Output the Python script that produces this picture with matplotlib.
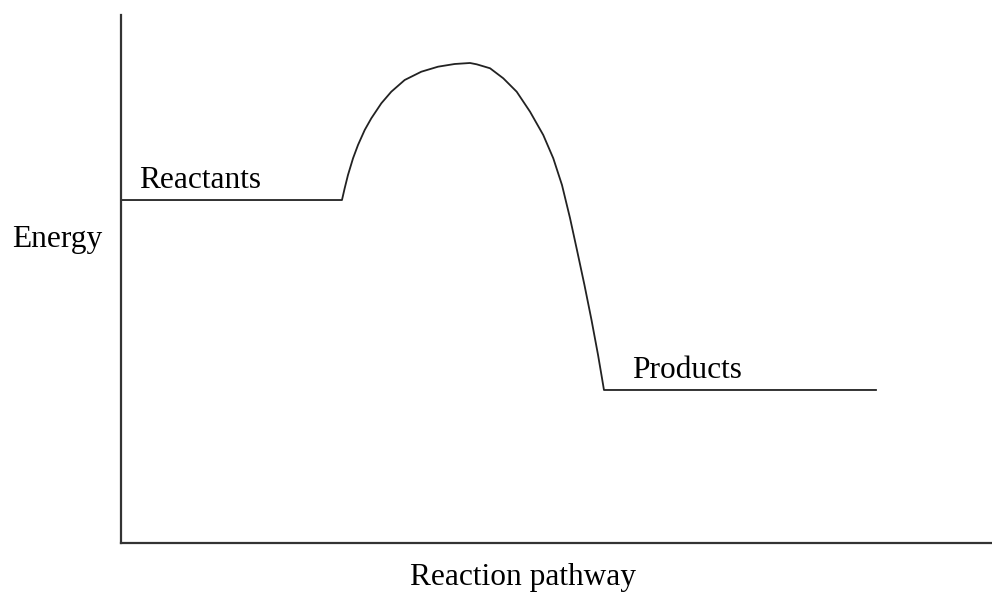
import matplotlib
matplotlib.use("Agg")
import matplotlib.pyplot as plt

# reaction pathway (x) vs energy (y), arbitrary units 0-10
path_x = [0.0, 2.537, 2.568, 2.606, 2.664, 2.721, 2.798, 2.874, 2.989, 3.103,
          3.257, 3.448, 3.640, 3.831, 4.007, 4.084, 4.237, 4.389, 4.543, 4.696,
          4.848, 4.963, 5.063, 5.155, 5.235, 5.321, 5.402, 5.477, 5.522, 5.545,
          8.668]
energy = [6.496, 6.496, 6.718, 6.970, 7.286, 7.538, 7.822, 8.044, 8.328, 8.547,
          8.769, 8.926, 9.021, 9.072, 9.091, 9.066, 8.991, 8.801, 8.547, 8.169,
          7.727, 7.286, 6.780, 6.155, 5.549, 4.886, 4.223, 3.561, 3.125, 2.898,
          2.898]

labels = {"Reactants": (0.207, 6.72), "Products": (5.867, 3.125)}

plt.rcParams['font.family'] = ['Liberation Serif', 'DejaVu Serif']

W, H = 992, 593
fig = plt.figure(figsize=(W / 100, H / 100), dpi=100)
ax = fig.add_axes([121 / W, 50 / H, 871 / W, 528 / H])

ax.plot(path_x, energy, color='#222222', lw=1.3, solid_joinstyle='round')
ax.set_xlim(0, 10)
ax.set_ylim(0, 10)

for s in ['top', 'right']:
    ax.spines[s].set_visible(False)
for s in ['left', 'bottom']:
    ax.spines[s].set_linewidth(1.6)
    ax.spines[s].set_color('#333333')
ax.set_xticks([])
ax.set_yticks([])

for name, (x, y) in labels.items():
    ax.text(x, y, name, fontsize=22.6, va='baseline', ha='left')

fig.text(12 / W, (H - 247) / H, "Energy", fontsize=22.6, va='baseline', ha='left')
fig.text(410 / W, (H - 585) / H, "Reaction pathway", fontsize=22.6, va='baseline', ha='left')

fig.savefig("out.png", dpi=100)
